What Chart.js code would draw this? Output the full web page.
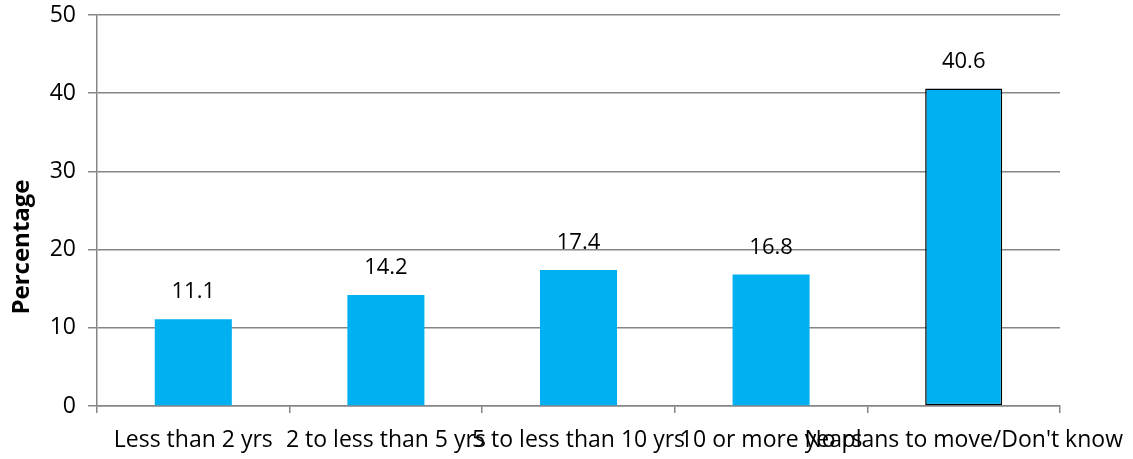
<!DOCTYPE html>
<html>
<head>
<meta charset="utf-8">
<script src="https://cdn.jsdelivr.net/npm/chart.js@4"></script>
<style>
  html, body { margin: 0; padding: 0; background: #ffffff; }
  #wrap { width: 1133px; height: 459px; position: relative; }
</style>
</head>
<body>
<div id="wrap"><canvas id="c"></canvas></div>
<script>
const categories = ["Less than 2 yrs", "2 to less than 5 yrs", "5 to less than 10 yrs", "10 or more years", "No plans to move/Don't know"];
const values = [11.1, 14.2, 17.4, 16.8, 40.6];
const valueLabels = ["11.1", "14.2", "17.4", "16.8", "40.6"];
const yTicks = [0, 10, 20, 30, 40, 50];
const yTitle = "Percentage";

const FONT = "'Open Sans', 'Liberation Sans', sans-serif";
const GRID = "#868686";

const labelPlugin = {
  id: 'labels',
  afterDatasetsDraw(chart) {
    const ctx = chart.ctx;
    const meta = chart.getDatasetMeta(0);
    ctx.save();
    ctx.font = "22px " + FONT;
    ctx.fillStyle = "#000";
    ctx.textAlign = "center";
    ctx.textBaseline = "middle";
    meta.data.forEach((bar, i) => {
      ctx.fillText(valueLabels[i], bar.x, bar.y - 27);
    });
    // y axis title
    ctx.translate(22, 247);
    ctx.rotate(-Math.PI / 2);
    ctx.font = "bold 24px " + FONT;
    ctx.fillText(yTitle, 0, 0);
    ctx.restore();
  }
};

new Chart(document.getElementById('c'), {
  type: 'bar',
  data: {
    labels: categories,
    datasets: [{
      data: values,
      backgroundColor: "#00B0F0",
      borderColor: values.map((v, i) => i === values.length - 1 ? "#000000" : "rgba(0,0,0,0)"),
      borderWidth: values.map((v, i) => i === values.length - 1 ? 1.5 : 0),
      borderSkipped: false,
      barPercentage: 0.4,
      categoryPercentage: 1.0
    }]
  },
  options: {
    responsive: true,
    maintainAspectRatio: false,
    animation: false,
    devicePixelRatio: 1,
    layout: { padding: { top: 15, right: 73, left: 0, bottom: 0 } },
    plugins: { legend: { display: false }, tooltip: { enabled: false } },
    scales: {
      x: {
        offset: true,
        grid: { offset: true, display: true, drawOnChartArea: false, drawTicks: true, tickLength: 7, color: GRID, lineWidth: 1.5 },
        border: { display: true, color: GRID, width: 1.5 },
        ticks: { autoSkip: false, maxRotation: 0, minRotation: 0, color: "#000", font: { family: FONT, size: 23 }, padding: 14 },
        afterFit(scale) { scale.height = 53; scale.paddingLeft = 0; scale.paddingRight = 0; }
      },
      y: {
        min: 0, max: 50,
        afterBuildTicks(scale) { scale.ticks = yTicks.map(v => ({ value: v })); },
        grid: { color: GRID, lineWidth: 1.5, tickLength: 9 },
        border: { display: true, color: GRID, width: 1.5 },
        ticks: { color: "#000", font: { family: FONT, size: 23 }, padding: 12 },
        afterFit(scale) { scale.width = 97; scale.paddingTop = 0; scale.paddingBottom = 0; }
      }
    }
  },
  plugins: [labelPlugin]
});
</script>
</body>
</html>
